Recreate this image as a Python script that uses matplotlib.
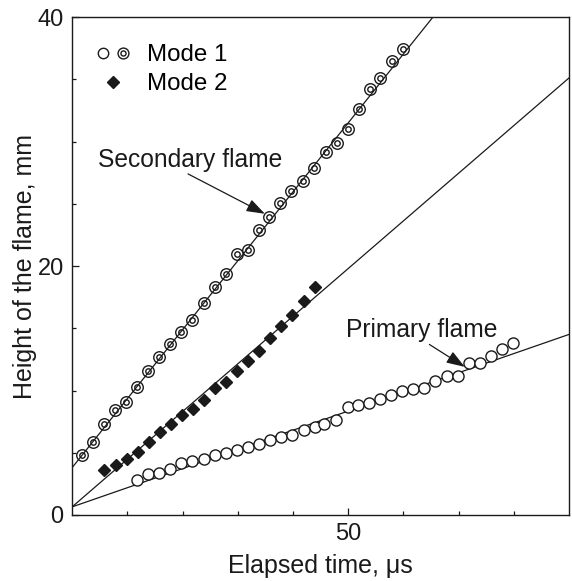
import numpy as np
import matplotlib
matplotlib.use("Agg")
import matplotlib.pyplot as plt
from matplotlib.path import Path
from matplotlib.lines import Line2D
from matplotlib.legend_handler import HandlerTuple

plt.rcParams['font.family'] = ['Liberation Sans', 'DejaVu Sans']

# Mode 1, secondary flame (double circles)
t_sec = [1.8, 3.7, 5.7, 7.8, 9.8, 11.8, 13.8, 15.8, 17.8, 19.8, 21.8, 23.9, 25.9, 27.8, 29.8,
         31.9, 33.8, 35.7, 37.7, 39.7, 41.8, 43.8, 45.9, 47.9, 49.9, 51.9, 53.9, 55.8, 57.9, 59.9]
h_sec = [4.8, 5.9, 7.3, 8.4, 9.1, 10.3, 11.6, 12.7, 13.7, 14.7, 15.7, 17.0, 18.3, 19.4, 21.0,
         21.3, 22.9, 23.9, 25.1, 26.0, 26.8, 27.9, 29.2, 29.9, 31.0, 32.6, 34.2, 35.1, 36.5, 37.4]

# Mode 1, primary flame (open circles)
t_pri = [11.8, 13.8, 15.8, 17.8, 19.8, 21.8, 23.9, 25.9, 27.8, 29.9, 31.9, 33.9, 35.9, 37.9,
         39.9, 42.0, 43.9, 45.7, 47.7, 49.9, 51.8, 53.8, 55.8, 57.8, 59.8, 61.8, 63.8, 65.8,
         67.8, 69.9, 71.8, 73.9, 75.9, 77.8, 79.8]
h_pri = [2.8, 3.3, 3.4, 3.7, 4.2, 4.35, 4.5, 4.8, 5.0, 5.25, 5.5, 5.7, 6.0, 6.25,
         6.45, 6.8, 7.1, 7.35, 7.6, 8.7, 8.8, 9.0, 9.35, 9.6, 9.95, 10.1, 10.2, 10.75,
         11.2, 11.15, 12.2, 12.2, 12.8, 13.35, 13.8]

# Mode 2 (diamonds)
t_m2 = [5.8, 8.0, 9.9, 12.0, 14.0, 15.9, 17.9, 19.9, 21.9, 23.9, 25.9, 27.8, 29.9, 31.9,
        33.9, 35.9, 37.9, 39.9, 42.0, 43.9]
h_m2 = [3.6, 4.0, 4.5, 5.05, 5.9, 6.65, 7.3, 8.0, 8.5, 9.25, 10.2, 10.7, 11.55, 12.4,
        13.2, 14.25, 15.2, 16.05, 17.2, 18.3]

# fitted lines: intercept, slope
fit_sec = [3.8, 0.554]
fit_m2 = [0.65, 0.383]
fit_pri = [0.65, 0.154]

ink = '#1a1a1a'

# double circle marker
outer = Path.unit_circle()
inner = Path(outer.vertices * 0.47, outer.codes)
dbl = Path.make_compound_path(outer, inner)

fig = plt.figure(figsize=(5.72, 5.81), dpi=100)
ax = fig.add_axes([0.126, 0.1136, 0.869, 0.857])

tt = np.array([0, 90])
for b, m in (fit_sec, fit_m2, fit_pri):
    ax.plot(tt, b + m * tt, color=ink, lw=0.9, zorder=1)

ax.plot(t_pri, h_pri, 'o', ms=8, mfc='white', mec=ink, mew=1.0, zorder=3)
ax.plot(t_sec, h_sec, ls='none', marker=dbl, ms=8.3, mfc='none', mec=ink, mew=1.0, zorder=3)
ax.plot(t_m2, h_m2, 'D', ms=6.5, color=ink, zorder=3)

# legend proxies
l_open = Line2D([], [], ls='none', marker='o', ms=7.5, mfc='white', mec=ink, mew=1.0)
l_dbl = Line2D([], [], ls='none', marker=dbl, ms=7.8, mfc='none', mec=ink, mew=1.0)
l_dia = Line2D([], [], ls='none', marker='D', ms=6.5, color=ink)
ax.legend([(l_open, l_dbl), l_dia], ['Mode 1', 'Mode 2'],
          handler_map={tuple: HandlerTuple(ndivide=None, pad=0.33)},
          loc='upper left', bbox_to_anchor=(0.05, 0.945), frameon=False, fontsize=17.4,
          handlelength=1.33, handletextpad=0.75, labelspacing=0.27,
          borderaxespad=0, borderpad=0)

ax.text(21.3, 28.5, 'Secondary flame', fontsize=17.7, ha='center', va='center', color=ink)
ax.annotate('', xy=(34.9, 24.2), xytext=(21.0, 27.4),
            arrowprops=dict(arrowstyle='-|>,head_length=0.8,head_width=0.28', color=ink, lw=0.9,
                            mutation_scale=14, shrinkA=0, shrinkB=0))
ax.text(63.3, 14.9, 'Primary flame', fontsize=17.7, ha='center', va='center', color=ink)
ax.annotate('', xy=(71.1, 11.9), xytext=(64.7, 13.7),
            arrowprops=dict(arrowstyle='-|>,head_length=0.8,head_width=0.28', color=ink, lw=0.9,
                            mutation_scale=14, shrinkA=0, shrinkB=0))

ax.set_xlim(0, 90)
ax.set_ylim(0, 40)
ax.set_xticks([50])
ax.set_xticks(np.arange(10, 90, 10), minor=True)
ax.set_yticks([0, 20, 40])
ax.set_yticks(np.arange(5, 40, 5), minor=True)
ax.tick_params(which='both', direction='in', labelsize=17, colors=ink, pad=6)
ax.tick_params(which='major', length=5, width=0.9)
ax.tick_params(which='minor', length=3, width=0.9)
for s in ax.spines.values():
    s.set_linewidth(1.0)
    s.set_color(ink)

ax.set_xlabel('Elapsed time, \u03bcs', fontsize=18, color=ink, labelpad=6)
ax.set_ylabel('Height of the flame, mm', fontsize=18, color=ink, labelpad=0)

fig.savefig('out.png', dpi=100)
